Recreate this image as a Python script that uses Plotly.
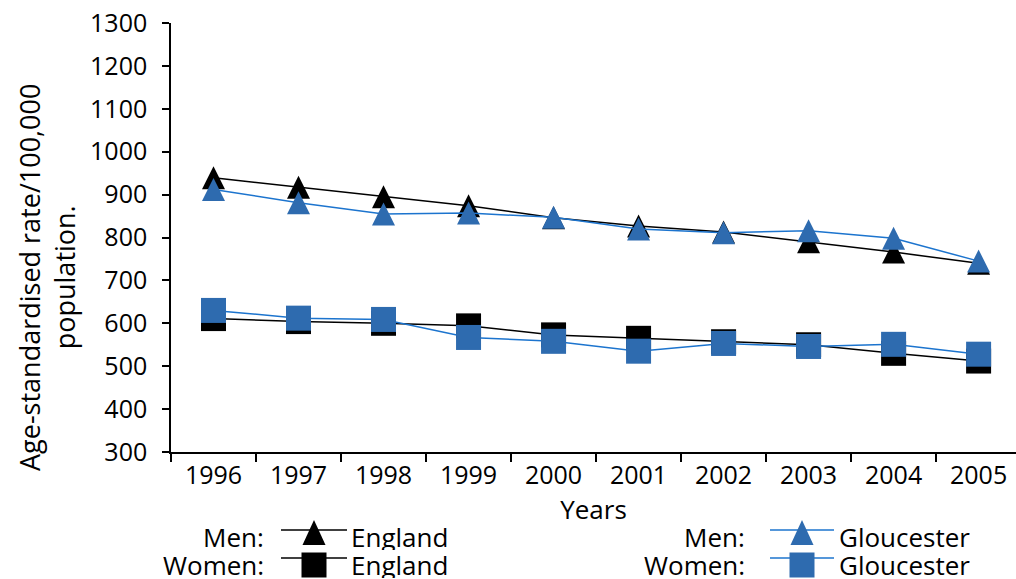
import plotly.graph_objects as go

years = ["1996", "1997", "1998", "1999", "2000", "2001", "2002", "2003", "2004", "2005"]
england_men = [939, 917, 895, 874, 846, 827, 813, 790, 766, 740]
gloucester_men = [912, 881, 855, 857, 847, 820, 811, 816, 798, 745]
england_women = [611, 604, 600, 594, 573, 565, 557, 550, 530, 512]
gloucester_women = [630, 612, 609, 567, 558, 535, 553, 546, 551, 528]

FONT = "Open Sans"
BLUE_MARK = "#2E6BAF"
BLUE_LINE = "#1C74CE"
TRI = 23
SQ = 25
TXT = 26

# figure geometry (pixels)
W, H = 1016, 579
L, R, T, B = 171, 0, 23, 127
PW, PH = W - L - R, H - T - B


def px(x):
    return (x - L) / PW


def py(y):
    return (H - B - y) / PH


fig = go.Figure()


def tri_marker(color):
    return dict(symbol="arrow-down", angle=180, standoff=TRI / 2, size=TRI, color=color,
                line=dict(width=0))


series = [
    ("England", "Men", england_men, "black", "black", "tri"),
    ("Gloucester", "Men", gloucester_men, BLUE_LINE, BLUE_MARK, "tri"),
    ("England", "Women", england_women, "black", "black", "sq"),
    ("Gloucester", "Women", gloucester_women, BLUE_LINE, BLUE_MARK, "sq"),
]
for name, sex, vals, lc, mc, kind in series:
    marker = tri_marker(mc) if kind == "tri" else dict(symbol="square", size=SQ, color=mc,
                                                        line=dict(width=0))
    fig.add_trace(go.Scatter(x=years, y=vals, name=f"{sex}: {name}", mode="lines+markers",
                             line=dict(color=lc, width=1.5), marker=marker, showlegend=False,
                             cliponaxis=False))

fig.update_layout(
    width=W, height=H,
    margin=dict(l=L, r=R, t=T, b=B, autoexpand=False),
    paper_bgcolor="white", plot_bgcolor="white",
    font=dict(family=FONT, size=TXT, color="black"),
    showlegend=False,
)

fig.update_xaxes(type="category", range=[-0.5, 9.44], showline=True, linecolor="black", linewidth=1.5,
                 ticks="outside", ticklen=8, tickcolor="black", tickwidth=1.5, tickson="boundaries",
                 showgrid=False, zeroline=False, tickfont=dict(size=25), automargin=False,
                 title=dict(text="Years", font=dict(size=TXT), standoff=2))
fig.update_yaxes(range=[300, 1300], dtick=100, showline=True, linecolor="black", linewidth=1.5,
                 ticks="outside", ticklen=7, tickcolor="black", tickwidth=1.5, automargin=False,
                 showgrid=False, zeroline=False, tickfont=dict(size=25), ticklabelstandoff=10)

fig.add_annotation(text="Age-standardised rate/100,000<br>population.", textangle=-90,
                   xref="paper", yref="paper", x=px(47), y=py(278), xanchor="center", yanchor="middle",
                   showarrow=False, font=dict(size=27))

# manual legend
legend_cols = [
    # (label right edge, line x0, line x1, marker center x, text x, trace indices)
    (265, 281, 347, 314, 350, (0, 2)),
    (746, 770, 834, 802, 838, (1, 3)),
]
rows = [("Men:", 530, 537, "tri"), ("Women:", 558, 565, "sq")]
for lab_x, lx0, lx1, mx, tx, idxs in legend_cols:
    for (rowlab, line_y, text_y, kind), ti in zip(rows, idxs):
        name, sex, vals, lc, mc, _ = series[ti]
        fig.add_annotation(text=rowlab, xref="paper", yref="paper", x=px(lab_x), y=py(text_y),
                           xanchor="right", yanchor="middle", showarrow=False, font=dict(size=TXT),
                           height=26, borderpad=0, valign="middle")
        fig.add_annotation(text=name, xref="paper", yref="paper", x=px(tx), y=py(text_y),
                           xanchor="left", yanchor="middle", showarrow=False, font=dict(size=TXT),
                           height=26, borderpad=0, valign="middle")
        fig.add_shape(type="line", xref="paper", yref="paper", x0=px(lx0), x1=px(lx1),
                      y0=py(line_y), y1=py(line_y), line=dict(color=lc, width=1.5))
        if kind == "tri":
            path = "M-11.5,-12.5 L11.5,-12.5 L0,12.5 Z"
            cy = line_y + 2.5
        else:
            path = "M-12.5,-12.5 L12.5,-12.5 L12.5,12.5 L-12.5,12.5 Z"
            cy = line_y + 7
        fig.add_shape(type="path", xref="paper", yref="paper", xsizemode="pixel", ysizemode="pixel",
                      xanchor=px(mx), yanchor=py(cy), path=path,
                      fillcolor=mc, line=dict(width=0))

fig.write_html("out.html", config={"displayModeBar": False},
               post_script="document.body.style.margin='0px';document.body.style.overflow='hidden';")
